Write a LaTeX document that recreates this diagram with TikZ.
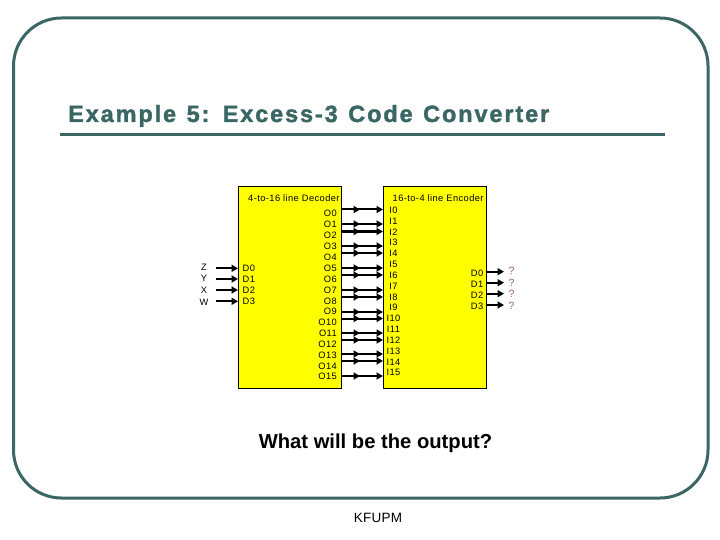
\documentclass[tikz,border=0pt]{standalone}
\usepackage{fontspec}
\setmainfont{Liberation Sans}
\newfontfamily\ttlfont[LetterSpace=8,FakeBold=1.6,Ligatures=NoCommon,WordSpace=1.25]{Liberation Sans Bold}
\newfontfamily\smfont[LetterSpace=4.5]{Liberation Sans}
\newfontfamily\ftfont[LetterSpace=1.5]{Liberation Sans}
\usetikzlibrary{arrows.meta}
\definecolor{teal3}{HTML}{3A6663}
\definecolor{ybox}{HTML}{FFFF00}
\definecolor{qmark}{HTML}{A8604F}
\tikzset{
  lab/.style={inner sep=0pt,font=\smfont\fontsize{9.3}{9.3}\selectfont},
  labl/.style={lab,anchor=base west},
  labr/.style={lab,anchor=base east},
  labc/.style={lab,anchor=base},
  qlab/.style={inner sep=0pt,anchor=base,text=qmark,font=\fontsize{10.5}{10.5}\selectfont},
  blockbox/.style={draw=black,line width=0.9pt,fill=ybox,inner sep=0pt,minimum width=103pt,minimum height=202pt,anchor=north west},
  sig/.style={draw=black,line width=2pt,-{Triangle[length=6.5pt,width=7pt]}},
  frameline/.style={draw=teal3,line width=3pt}
}
\begin{document}
\begin{tikzpicture}[x=1pt,y=-1pt]
\useasboundingbox (0,0) rectangle (720,540);
\draw[frameline,rounded corners=48pt] (13.5,18) rectangle (708,498);
\node[inner sep=0pt,anchor=base west,font=\ttlfont\fontsize{23.5}{24}\selectfont,text=teal3] (title) at (68,122) {Example 5: Excess-3 Code Converter};
\coordinate (ruleL) at (60,135);
\coordinate (ruleR) at (665,135);
\draw[frameline] (ruleL) -- (ruleR);
\node[blockbox] (dec) at (238,186) {};
\node[blockbox] (enc) at (383,186) {};
\node[labl] (dectitle) at (248,202) {4-to-16 line Decoder};
\node[labl] (enctitle) at (392.5,202) {16-to-4 line Encoder};
% decoder inputs
\foreach \i/\t/\y/\ly in {0/Z/268.3/270,1/Y/279/281.3,2/X/290/293.3,3/W/301.3/305}{
  \node[labc] (in\i) at (204,\ly) {\t};
  \node[labl] (dd\i) at (242.5,\y+3.3) {D\i};
  \coordinate (ins\i) at (216,\y);
  \coordinate (ine\i) at (dec.west |- ins\i);
  \draw[sig] (ins\i) -- (ine\i);
}
% encoder outputs
\foreach \i/\y/\ly/\qy in {0/271.7/276/274.6,1/282.7/287/286.6,2/293.7/298/297.6,3/305/309.3/309.6}{
  \node[labr] (ed\i) at (483.5,\ly) {D\i};
  \coordinate (outs\i) at (enc.east |- 0,\y);
  \coordinate (oute\i) at (504,\y);
  \draw[sig] (outs\i) -- (oute\i);
  \node[qlab] (q\i) at (511.5,\qy) {?};
}
% 16 lines
\foreach \i/\ly/\ay in {0/217/209.5,1/228/224,2/239/231.5,3/249.5/246,4/260.5/253,5/271/268,6/282/275,7/293/290,8/304/297,9/314.5/312,10/325/318.5,11/336/333,12/347/340,13/358/354,14/369/361,15/379.5/376}{
  \node[labr] (o\i) at (337,\ly) {O\i};
  \node[labc] (ii\i) at (393.5,\ly-3.6) {I\i};
  \coordinate (os\i) at (dec.east |- 0,\ay);
  \coordinate (om\i) at (360,\ay);
  \coordinate (ms\i) at (346,\ay);
  \coordinate (ie\i) at (enc.west |- 0,\ay);
  \draw[sig] (os\i) -- (om\i);
  \draw[sig] (ms\i) -- (ie\i);
}
\node[inner sep=0pt,anchor=base,font=\bfseries\fontsize{20.2}{21}\selectfont] (ask) at (375.5,448.5) {What will be the output?};
\node[inner sep=0pt,anchor=base,font=\ftfont\fontsize{13.5}{14}\selectfont] (foot) at (378,522) {KFUPM};
\end{tikzpicture}
\end{document}
